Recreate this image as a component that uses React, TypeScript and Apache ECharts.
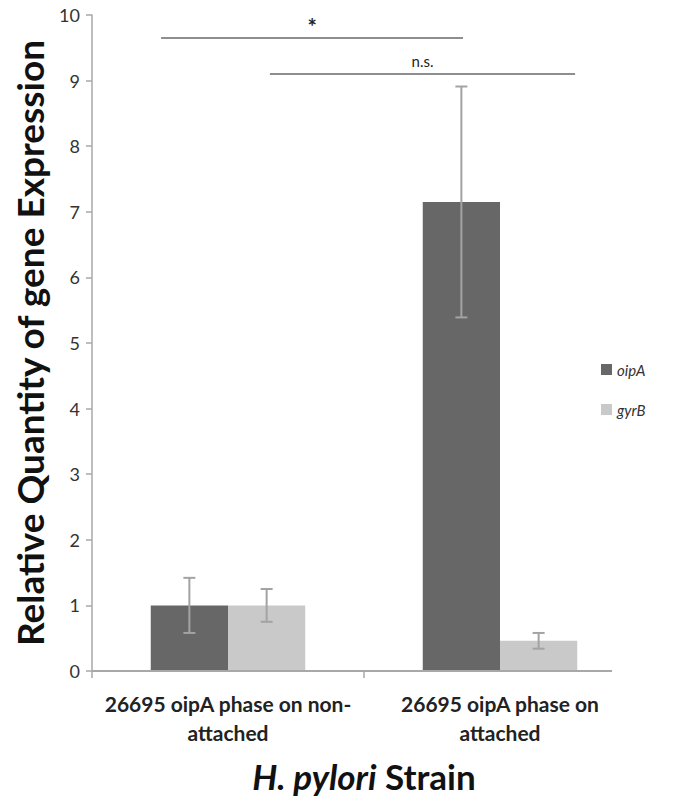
import React, { useEffect, useRef } from "react";
import * as echarts from "echarts";

const categories = ["26695 oipA phase on non-\nattached", "26695 oipA phase on\nattached"];
const seriesNames = ["oipA", "gyrB"];
const oipAValues = [1.0, 7.15];
const oipAErrors = [0.42, 1.76];
const gyrBValues = [1.0, 0.46];
const gyrBErrors = [0.25, 0.12];
const yMin = 0;
const yMax = 10;
const yInterval = 1;
const bracketLabels = ["*", "n.s."];
const bracketLevels = [9.65, 9.1];

// layout (fractions of a category band, relative to category centre)
const BAR_FRAC = 0.284;
const bracketSpans = [
  { fromCat: 0, fromOff: -0.246, toCat: 1, toOff: -0.136, labelGap: 0, size: 22, weight: "bold" },
  { fromCat: 0, fromOff: 0.154, toCat: 1, toOff: 0.276, labelGap: 6, size: 15, weight: "normal" },
];
const AXIS_END_OFF = 0.412;
const LEGEND_TOPS = [357, 397];

const FONT = "Lato, 'Open Sans', sans-serif";
const DARK = "#676767";
const LIGHT = "#c9c9c9";
const ERR = "#a3a3a3";
const AXIS = "#a8a8a8";

export default function App() {
  const ref = useRef<HTMLDivElement>(null);
  useEffect(() => {
    if (!ref.current) return;
    const chart = echarts.init(ref.current, null, { renderer: "svg" });

    const errRender = (sign: number) => (params: any, api: any) => {
      const cat = api.value(0);
      const v = api.value(1);
      const e = api.value(2);
      const band = api.size([1, 0])[0];
      const c = api.coord([cat, v]);
      const x = c[0] + sign * band * BAR_FRAC * 0.5;
      const top = api.coord([cat, v + e])[1];
      const bot = api.coord([cat, v - e])[1];
      const cap = 6;
      const style = { stroke: ERR, lineWidth: 2 };
      return {
        type: "group",
        children: [
          { type: "line", shape: { x1: x, y1: top, x2: x, y2: bot }, style },
          { type: "line", shape: { x1: x - cap, y1: top, x2: x + cap, y2: top }, style },
          { type: "line", shape: { x1: x - cap, y1: bot, x2: x + cap, y2: bot }, style },
        ],
      };
    };

    const option: any = {
      animation: false,
      textStyle: { fontFamily: FONT },
      grid: { left: 92, right: 44, top: 15, bottom: 129, containLabel: false },
      legend: seriesNames.map((n, i) => ({
        data: [n],
        orient: "vertical",
        left: 596,
        top: LEGEND_TOPS[i],
        icon: "rect",
        itemWidth: 11,
        itemHeight: 11,
        textStyle: { fontStyle: "italic", fontSize: 15, color: "#333", fontFamily: FONT },
      })),
      xAxis: {
        type: "category",
        data: categories,
        axisLine: { show: false },
        axisTick: { show: false },
        axisLabel: {
          fontSize: 21,
          fontWeight: "bold",
          color: "#222",
          lineHeight: 29,
          margin: 18,
          fontFamily: FONT,
          interval: 0,
        },
        name: "{i|H. pylori}{n| Strain}",
        nameLocation: "middle",
        nameGap: 87,
        nameTextStyle: {
          rich: {
            i: { fontSize: 35, fontStyle: "italic", fontWeight: "bold", color: "#111", fontFamily: FONT },
            n: { fontSize: 35, fontWeight: "bold", color: "#111", fontFamily: FONT },
          },
        },
      },
      yAxis: {
        type: "value",
        min: yMin,
        max: yMax,
        interval: yInterval,
        splitLine: { show: false },
        axisLine: { show: true, lineStyle: { color: AXIS, width: 1.5 } },
        axisTick: { show: true, length: 6, lineStyle: { color: AXIS, width: 1.5 } },
        axisLabel: { fontSize: 18, color: "#333", margin: 12, fontFamily: FONT },
        name: "Relative Quantity of gene Expression",
        nameLocation: "middle",
        nameGap: 44,
        nameTextStyle: { fontSize: 37, fontWeight: "bold", color: "#111", fontFamily: FONT },
      },
      series: [
        {
          name: seriesNames[0],
          type: "bar",
          data: oipAValues,
          barWidth: (BAR_FRAC * 100).toFixed(1) + "%",
          barGap: "0%",
          itemStyle: { color: DARK },
        },
        {
          name: seriesNames[1],
          type: "bar",
          data: gyrBValues,
          barWidth: (BAR_FRAC * 100).toFixed(1) + "%",
          barGap: "0%",
          itemStyle: { color: LIGHT },
        },
        {
          name: "oipA error",
          type: "custom",
          z: 5,
          renderItem: errRender(-1),
          encode: { x: 0, y: 1 },
          data: oipAValues.map((v, i) => [i, v, oipAErrors[i]]),
        },
        {
          name: "gyrB error",
          type: "custom",
          z: 5,
          renderItem: errRender(1),
          encode: { x: 0, y: 1 },
          data: gyrBValues.map((v, i) => [i, v, gyrBErrors[i]]),
        },
      ],
    };
    chart.setOption(option);

    const px = (cat: number, y: number) =>
      chart.convertToPixel({ xAxisIndex: 0, yAxisIndex: 0 }, [cat, y]) as number[];
    const c0 = px(0, 0);
    const c1 = px(1, 0);
    const band = c1[0] - c0[0];
    const y0 = c0[1];
    const graphics: any[] = [];
    // x axis line & ticks
    const axStart = c0[0] - band / 2;
    const axEnd = c1[0] + band * AXIS_END_OFF;
    graphics.push({
      type: "line",
      shape: { x1: axStart, y1: y0, x2: axEnd, y2: y0 },
      style: { stroke: AXIS, lineWidth: 2 },
      z: 10,
    });
    [axStart, (c0[0] + c1[0]) / 2].forEach((x) =>
      graphics.push({
        type: "line",
        shape: { x1: x, y1: y0, x2: x, y2: y0 + 7 },
        style: { stroke: AXIS, lineWidth: 1.5 },
        z: 10,
      })
    );
    bracketSpans.forEach((b, i) => {
      const a = px(b.fromCat, bracketLevels[i]);
      const e = px(b.toCat, bracketLevels[i]);
      const x1 = a[0] + b.fromOff * band;
      const x2 = e[0] + b.toOff * band;
      const y = a[1];
      graphics.push({
        type: "line",
        shape: { x1, y1: y, x2, y2: y },
        style: { stroke: "#8e8e8e", lineWidth: 2 },
        z: 10,
      });
      graphics.push({
        type: "text",
        x: (x1 + x2) / 2,
        y: y - b.labelGap,
        style: {
          text: bracketLabels[i],
          align: "center",
          verticalAlign: "bottom",
          fontSize: b.size,
          fontWeight: b.weight,
          fill: "#222",
          fontFamily: FONT,
        },
        z: 10,
      });
    });
    chart.setOption({ graphic: graphics });

    return () => chart.dispose();
  }, []);
  return (
    <div
      ref={ref}
      style={{ width: 680, height: 800, position: "absolute", left: 0, top: 0 }}
    />
  );
}
